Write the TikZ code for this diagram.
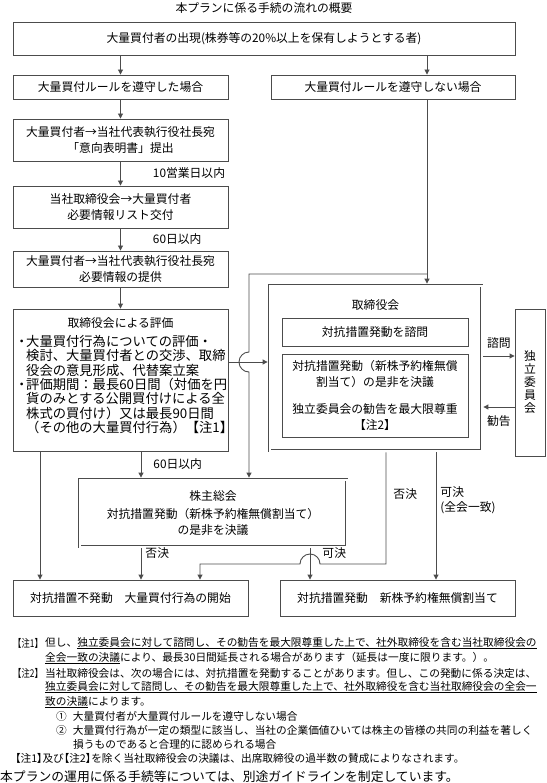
\documentclass[tikz,border=0pt]{standalone}
\usepackage{fontspec}
\setmainfont{Noto Sans CJK JP}
\newfontfamily\palfont[RawFeature=+palt]{Noto Sans CJK JP}
\usetikzlibrary{arrows.meta,positioning,calc}
\newcommand{\noteul}[1]{\underline{#1}}
\newcommand{\notetag}[1]{\scalebox{0.78}[1]{【注#1】}}

\begin{document}
\begin{tikzpicture}[x=1pt, y=-1pt,
    >={Triangle[length=5pt,width=5pt]},
    every node/.style={font=\fontsize{11.8}{15.5}\selectfont},
    wire/.style={draw=black!70, line width=0.9pt},
    flow/.style={wire, ->},
    box/.style={wire, rectangle, inner sep=0pt, align=center, fill=white},
    dbox/.style={box, double, double distance=2pt, outer sep=1.9pt},
    lbl/.style={inner sep=0pt, anchor=west},
    note/.style={inner sep=0pt, anchor=west, font=\fontsize{10.7}{14}\selectfont}]
    \useasboundingbox (0,0) rectangle (546,783);

    \node (title) at (264,8) {本プランに係る手続の流れの概要};

    % boxes, left column
    \node [box, minimum width=502pt, minimum height=33pt] (appear) at (264,38.5) {大量買付者の出現(株券等の20\%以上を保有しようとする者)};
    \node [box, minimum width=215pt, minimum height=24pt] (comply) at (120.5,87) {大量買付ルールを遵守した場合};
    \node [box, minimum width=244pt, minimum height=24pt] (breach) at (393,87) {大量買付ルールを遵守しない場合};
    \node [box, minimum width=215pt, minimum height=42pt] (intent) at (120.5,140) {大量買付者→当社代表執行役社長宛\\「意向表明書」提出};
    \node [box, minimum width=215pt, minimum height=42pt] (infolist) at (120.5,207) {当社取締役会→大量買付者\\必要情報リスト交付};
    \node [box, minimum width=215pt, minimum height=36pt] (infogive) at (120.5,269) {大量買付者→当社代表執行役社長宛\\必要情報の提供};
    \node [box, minimum width=215pt, minimum height=142pt] (eval) at (120.5,380) {};
    \node (evaltitle) at (120.5,323) {取締役会による評価};
    \node [align=left, inner sep=0pt, anchor=west, font=\fontsize{13.3}{14.3}\selectfont] (evaltext) at (17,384.5)
        {\makebox[9pt]{・}大量買付行為についての評価・\\
         \hspace{9pt}検討、大量買付者との交渉、取締\\
         \hspace{9pt}役会の意見形成、代替案立案\\
         \makebox[9pt]{・}評価期間：最長60日間（対価を円\\
         \hspace{9pt}貨のみとする公開買付けによる全\\
         \hspace{9pt}株式の買付け）又は最長90日間\\
         \hspace{9pt}（その他の大量買付行為）【注1】};

    % board of directors
    \node [dbox, minimum width=212pt, minimum height=165pt] (board) at (375.5,368) {};
    \node (boardtitle) at (375.5,305) {取締役会};
    \node [box, minimum width=186pt, minimum height=28pt] (consult) at (375,332) {対抗措置発動を諮問};
    \node [box, minimum width=186pt, minimum height=83pt] (resolve) at (375,395.5)
        {対抗措置発動（新株予約権無償\\割当て）の是非を決議\\[12pt]独立委員会の勧告を最大限尊重\\【注2】};
    \node [box, minimum width=30pt, minimum height=147pt, font=\fontsize{11.8}{13}\selectfont] (committee) at (530,382.5) {独\\立\\委\\員\\会};

    % shareholders meeting and outcomes
    \node [dbox, minimum width=267pt, minimum height=67pt] (gms) at (213,513) {株主総会\\[3pt]対抗措置発動（新株予約権無償割当て）\\の是非を決議};
    \node [box, minimum width=235pt, minimum height=36pt] (noaction) at (130.5,598) {対抗措置不発動　大量買付行為の開始};
    \node [box, minimum width=235pt, minimum height=36pt] (action) at (397.5,598) {対抗措置発動　新株予約権無償割当て};

    \coordinate (rx) at (427,0);
    \coordinate (split) at (427,274);
    \coordinate (bend) at (249,274);
    \coordinate (evy) at (0,362);
    \coordinate (asky) at (0,356);
    \coordinate (replyy) at (0,407);
    \coordinate (lx) at (40,0);
    \coordinate (mx) at (141,0);
    \coordinate (vx) at (310,0);
    \coordinate (nx) at (386,0);
    \coordinate (px) at (436,0);
    \coordinate (dropx) at (200,0);
    \coordinate (hopy) at (0,564);

    % arrows
    \draw [flow] (comply.north |- appear.south) -- (comply.north);
    \draw [flow] (rx |- appear.south) -- (rx |- breach.north);
    \draw [flow] (comply) -- (intent);
    \draw [flow] (intent) -- node [lbl, right=32pt] (lbl10) {10営業日以内} (infolist);
    \draw [flow] (infolist) -- node [lbl, right=32pt] (lbl60a) {60日以内} (infogive);
    \draw [flow] (infogive) -- (eval);
    \draw [flow] (rx |- breach.south) -- (rx |- board.north);
    \draw [flow] (split) -- (bend) -- ([yshift=10pt]bend |- evy) arc [start angle=90, end angle=270, radius=10pt] -- (bend |- gms.north);
    \draw [flow] (eval.east |- evy) -- (board.west |- evy);
    \draw [flow] (board.east |- asky) -- node [above=7pt, inner sep=0pt] (asklbl) {諮問} (committee.west |- asky);
    \draw [flow] (committee.west |- replyy) -- node [below=8pt, inner sep=0pt] (replylbl) {勧告} (board.east |- replyy);

    \draw [flow] (lx |- eval.south) -- (lx |- noaction.north);
    \draw [flow] (mx |- eval.south) -- node [lbl, right=12pt] (lbl60b) {60日以内} (mx |- gms.north);
    \draw [flow] (mx |- gms.south) -- node [lbl, pos=0.15, right=4pt] (rejgms) {否決} (mx |- noaction.north);
    \draw [flow] (vx |- gms.south) -- node [lbl, pos=0.15, right=12pt] (appgms) {可決} (vx |- action.north);
    \draw [flow] (nx |- board.south) -- node [lbl, pos=0.37, right=7pt] (rejboard) {否決} (nx |- hopy)
        -- ([xshift=10pt]vx |- hopy) arc [start angle=0, end angle=180, radius=10pt] -- (dropx |- hopy) -- (dropx |- noaction.north);
    \draw [flow] (px |- board.south) -- node [lbl, pos=0.375, right=4pt, align=left] (appboard) {可決\\(全会一致)} (px |- action.north);

    % notes
    \node [note] (note1tag) at (13,643) {\notetag{1}};
    \node [note] (note2tag) at (13,673) {\notetag{2}};
    \foreach \ny/\nx/\ntext [count=\i] in {
        643/45/{但し、\noteul{独立委員会に対して諮問し、その勧告を最大限尊重した上で、社外取締役を含む当社取締役会の}},
        658/45/{\noteul{全会一致の決議}により、最長30日間延長される場合があります（延長は一度に限ります。）。},
        673/45/{当社取締役会は、次の場合には、対抗措置を発動することがあります。但し、この発動に係る決定は、},
        687/45/{\noteul{独立委員会に対して諮問し、その勧告を最大限尊重した上で、社外取締役を含む当社取締役会の全会一}},
        702/45/{\noteul{致の決議}によります。},
        716/56/{①\hspace{6pt}大量買付者が大量買付ルールを遵守しない場合},
        730/56/{②\hspace{6pt}大量買付行為が一定の類型に該当し、当社の企業価値ひいては株主の皆様の共同の利益を著しく},
        744/73/{損うものであると合理的に認められる場合},
        758/15/{{\palfont 【注1】}及び{\palfont 【注2】}を除く当社取締役会の決議は、出席取締役の過半数の賛成によりなされます。}}
        \node [note] (note\i) at (\nx,\ny) {\ntext};
    \node [note, font=\fontsize{12.8}{15}\selectfont] (guide) at (0,777) {本プランの運用に係る手続等については、別途ガイドラインを制定しています。};
\end{tikzpicture}
\end{document}
